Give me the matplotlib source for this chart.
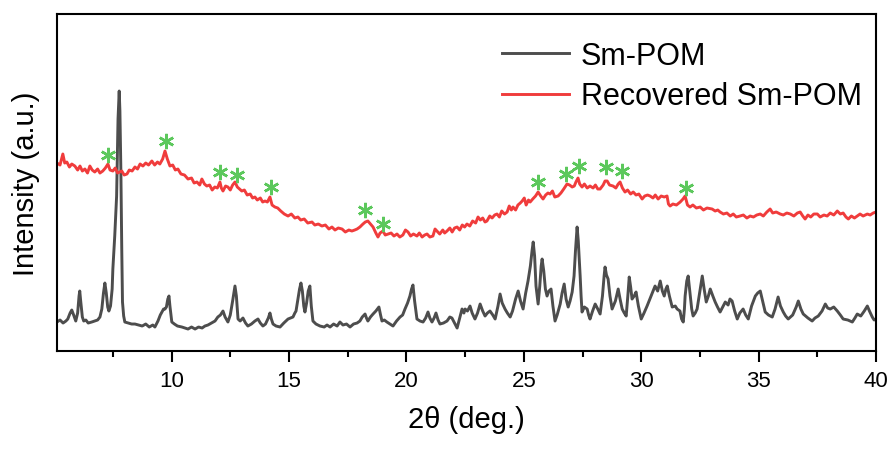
import numpy as np
import matplotlib.pyplot as plt
from matplotlib.ticker import MultipleLocator

plt.rcParams['font.family'] = ['Liberation Sans', 'DejaVu Sans']

# Sm-POM pattern: (2theta, intensity a.u.)
pom_pts = [
    (5.12, 29), (5.25, 31), (5.38, 28), (5.5, 30), (5.58, 32), (5.68, 38), (5.75, 41), (5.83, 36),
    (5.92, 30), (6.0, 38), (6.06, 55), (6.09, 60), (6.13, 50), (6.2, 34), (6.26, 30), (6.35, 31),
    (6.45, 28), (6.6, 29), (6.72, 30), (6.85, 31), (6.95, 34), (7.03, 42), (7.1, 58), (7.16, 68),
    (7.22, 58), (7.28, 44), (7.33, 40), (7.4, 45), (7.47, 62), (7.5, 82), (7.58, 115), (7.66, 155),
    (7.72, 232), (7.77, 260), (7.8, 240), (7.84, 182), (7.88, 100), (7.91, 49), (7.96, 35), (8.01, 29),
    (8.15, 28), (8.3, 27), (8.44, 27), (8.6, 26), (8.75, 25), (8.9, 27), (9.05, 24), (9.2, 26),
    (9.29, 24), (9.42, 30), (9.52, 36), (9.59, 39), (9.66, 42), (9.72, 42), (9.78, 44), (9.84, 52),
    (9.89, 55), (9.93, 45), (10.01, 29), (10.12, 27), (10.25, 25), (10.44, 24), (10.57, 23), (10.7, 22),
    (10.85, 24), (11.0, 22), (11.15, 24), (11.3, 23), (11.42, 25), (11.55, 26), (11.7, 28), (11.85, 30),
    (11.97, 34), (12.08, 36), (12.19, 40), (12.28, 34), (12.4, 29), (12.5, 36), (12.6, 50), (12.7, 65),
    (12.76, 55), (12.83, 32), (12.92, 30), (13.04, 33), (13.15, 28), (13.25, 25), (13.4, 27), (13.55, 30),
    (13.68, 32), (13.78, 28), (13.89, 25), (14.0, 27), (14.12, 33), (14.19, 38), (14.25, 32), (14.32, 27),
    (14.45, 25), (14.62, 24), (14.78, 28), (14.96, 32), (15.07, 33), (15.17, 34), (15.25, 38), (15.3, 40),
    (15.38, 52), (15.45, 62), (15.51, 68), (15.57, 60), (15.63, 45), (15.68, 39), (15.75, 48), (15.82, 60),
    (15.89, 65), (15.95, 45), (16.02, 30), (16.15, 27), (16.32, 25), (16.5, 24), (16.62, 26), (16.75, 24),
    (16.9, 27), (17.05, 25), (17.17, 29), (17.3, 26), (17.45, 27), (17.6, 24), (17.75, 27), (17.9, 28),
    (18.02, 30), (18.12, 34), (18.24, 37), (18.3, 33), (18.36, 30), (18.47, 34), (18.58, 37), (18.7, 40),
    (18.83, 44), (18.9, 36), (18.96, 30), (19.06, 31), (19.17, 29), (19.3, 27), (19.43, 25), (19.58, 30),
    (19.73, 34), (19.84, 36), (19.94, 42), (20.05, 48), (20.15, 55), (20.22, 62), (20.28, 66), (20.35, 50),
    (20.45, 32), (20.58, 30), (20.71, 29), (20.82, 33), (20.92, 39), (21.0, 33), (21.09, 29), (21.18, 33),
    (21.26, 38), (21.35, 31), (21.43, 27), (21.58, 28), (21.73, 30), (21.85, 34), (21.94, 33), (22.05, 28),
    (22.16, 23), (22.27, 33), (22.37, 42), (22.45, 38), (22.5, 42), (22.6, 40), (22.71, 45), (22.8, 38),
    (22.92, 32), (23.03, 38), (23.14, 47), (23.25, 40), (23.35, 35), (23.45, 38), (23.56, 40), (23.68, 36),
    (23.78, 32), (23.9, 45), (23.99, 57), (24.08, 48), (24.2, 42), (24.3, 38), (24.42, 34), (24.52, 40),
    (24.65, 52), (24.76, 60), (24.86, 50), (24.97, 42), (25.08, 58), (25.18, 70), (25.28, 85), (25.35, 100),
    (25.4, 109), (25.46, 95), (25.52, 65), (25.61, 47), (25.68, 65), (25.74, 85), (25.78, 92), (25.85, 80),
    (25.92, 62), (25.99, 55), (26.07, 60), (26.16, 62), (26.24, 45), (26.33, 30), (26.42, 36), (26.55, 47),
    (26.63, 58), (26.72, 67), (26.8, 52), (26.89, 44), (26.97, 50), (27.06, 59), (27.14, 75), (27.2, 100),
    (27.27, 124), (27.32, 110), (27.4, 75), (27.44, 55), (27.48, 39), (27.58, 44), (27.7, 42), (27.76, 36),
    (27.82, 32), (27.93, 40), (28.04, 47), (28.15, 42), (28.25, 37), (28.35, 55), (28.42, 75), (28.46, 84),
    (28.52, 76), (28.59, 72), (28.67, 55), (28.76, 42), (28.9, 50), (29.02, 62), (29.1, 52), (29.19, 42),
    (29.28, 38), (29.36, 35), (29.43, 55), (29.49, 74), (29.55, 64), (29.61, 52), (29.7, 55), (29.78, 59),
    (29.88, 45), (30.0, 32), (30.12, 38), (30.25, 45), (30.42, 55), (30.59, 65), (30.7, 60), (30.81, 70),
    (30.9, 60), (30.98, 55), (31.05, 62), (31.11, 65), (31.2, 55), (31.32, 44), (31.45, 45), (31.53, 42),
    (31.65, 40), (31.72, 32), (31.79, 29), (31.84, 42), (31.87, 55), (31.94, 70), (32.0, 75), (32.07, 60),
    (32.15, 42), (32.21, 35), (32.3, 38), (32.38, 42), (32.5, 60), (32.6, 75), (32.68, 62), (32.77, 49),
    (32.86, 55), (32.94, 62), (33.05, 55), (33.15, 49), (33.25, 44), (33.36, 39), (33.47, 44), (33.58, 49),
    (33.7, 46), (33.78, 52), (33.87, 50), (33.98, 40), (34.09, 32), (34.2, 38), (34.34, 42), (34.45, 36),
    (34.56, 32), (34.7, 45), (34.86, 55), (34.96, 58), (35.07, 60), (35.17, 50), (35.28, 39), (35.42, 36),
    (35.58, 34), (35.7, 42), (35.83, 54), (35.93, 45), (36.05, 39), (36.15, 35), (36.26, 32), (36.45, 36),
    (36.6, 44), (36.69, 50), (36.8, 42), (36.9, 37), (37.1, 33), (37.28, 30), (37.4, 33), (37.54, 35),
    (37.7, 40), (37.84, 47), (37.94, 43), (38.05, 42), (38.2, 44), (38.35, 40), (38.48, 36), (38.6, 32),
    (38.8, 31), (38.99, 29), (39.1, 33), (39.2, 37), (39.35, 35), (39.5, 40), (39.63, 45), (39.72, 40),
    (39.84, 34), (39.92, 31), (40.0, 32),
]

# Recovered Sm-POM pattern
rec_pts = [
    (5.12, 188), (5.25, 186), (5.37, 197), (5.45, 188), (5.54, 189), (5.65, 184), (5.75, 187), (5.88, 185),
    (6.0, 181), (6.1, 185), (6.2, 180), (6.31, 182), (6.42, 178), (6.52, 185), (6.62, 181), (6.73, 179),
    (6.85, 182), (6.95, 178), (7.07, 180), (7.18, 183), (7.29, 187), (7.38, 181), (7.5, 180), (7.6, 183),
    (7.7, 178), (7.88, 180), (7.98, 176), (8.1, 177), (8.2, 181), (8.32, 180), (8.44, 184), (8.55, 182),
    (8.66, 187), (8.78, 185), (8.9, 188), (9.02, 186), (9.16, 190), (9.28, 186), (9.4, 189), (9.5, 187),
    (9.62, 192), (9.72, 200), (9.82, 192), (9.93, 185), (10.05, 186), (10.16, 181), (10.27, 182), (10.4, 177),
    (10.55, 176), (10.7, 172), (10.85, 173), (10.96, 168), (11.08, 169), (11.2, 166), (11.29, 172), (11.4, 167),
    (11.5, 165), (11.62, 166), (11.73, 161), (11.84, 164), (11.95, 163), (12.06, 169), (12.12, 163), (12.19, 160),
    (12.3, 165), (12.4, 164), (12.5, 161), (12.6, 166), (12.7, 169), (12.8, 164), (12.99, 160), (13.1, 161),
    (13.22, 156), (13.35, 157), (13.45, 153), (13.55, 154), (13.65, 151), (13.78, 153), (13.88, 149), (13.98, 150),
    (14.08, 149), (14.19, 154), (14.28, 146), (14.4, 144), (14.52, 143), (14.65, 140), (14.8, 137), (14.96, 135),
    (15.1, 137), (15.25, 133), (15.38, 134), (15.5, 131), (15.65, 132), (15.8, 128), (15.98, 129), (16.1, 126),
    (16.25, 127), (16.4, 125), (16.55, 126), (16.7, 122), (16.83, 124), (16.96, 121), (17.1, 123), (17.26, 122),
    (17.4, 119), (17.55, 121), (17.68, 120), (17.8, 121), (17.9, 122), (18.02, 124), (18.15, 127), (18.25, 129),
    (18.36, 130), (18.47, 127), (18.58, 124), (18.7, 118), (18.79, 114), (18.88, 118), (19.0, 120), (19.1, 116),
    (19.22, 117), (19.35, 118), (19.47, 115), (19.6, 117), (19.72, 114), (19.85, 116), (19.96, 121), (20.07, 119),
    (20.18, 115), (20.3, 117), (20.45, 115), (20.55, 118), (20.67, 114), (20.78, 116), (20.88, 117), (21.0, 114),
    (21.13, 115), (21.22, 122), (21.3, 120), (21.42, 117), (21.55, 121), (21.63, 118), (21.73, 120), (21.85, 123),
    (21.95, 119), (22.05, 123), (22.16, 124), (22.27, 121), (22.38, 126), (22.48, 124), (22.58, 127), (22.7, 125),
    (22.82, 130), (22.95, 128), (23.05, 134), (23.15, 131), (23.25, 133), (23.35, 129), (23.43, 130), (23.55, 135),
    (23.65, 133), (23.76, 136), (23.86, 137), (23.96, 134), (24.06, 140), (24.18, 137), (24.29, 139), (24.38, 145),
    (24.47, 141), (24.54, 144), (24.65, 141), (24.75, 146), (24.85, 148), (24.93, 150), (25.02, 153), (25.1, 146),
    (25.2, 151), (25.27, 149), (25.38, 152), (25.5, 155), (25.61, 159), (25.72, 155), (25.82, 152), (25.93, 156),
    (26.03, 158), (26.12, 157), (26.22, 160), (26.32, 154), (26.46, 155), (26.58, 158), (26.7, 162), (26.84, 167),
    (26.95, 166), (27.06, 164), (27.15, 165), (27.22, 169), (27.31, 173), (27.38, 167), (27.48, 164), (27.58, 167),
    (27.7, 163), (27.82, 165), (27.95, 163), (28.05, 166), (28.15, 162), (28.25, 162), (28.38, 166), (28.46, 170),
    (28.55, 170), (28.65, 166), (28.8, 165), (28.92, 163), (29.02, 167), (29.1, 169), (29.2, 163), (29.31, 159),
    (29.42, 161), (29.55, 157), (29.66, 159), (29.78, 156), (29.9, 157), (30.04, 152), (30.15, 155), (30.27, 156),
    (30.38, 155), (30.5, 153), (30.6, 156), (30.72, 152), (30.85, 155), (30.98, 154), (31.1, 155), (31.16, 147),
    (31.23, 145), (31.35, 147), (31.5, 146), (31.66, 149), (31.78, 152), (31.87, 155), (31.97, 146), (32.08, 144),
    (32.2, 146), (32.35, 143), (32.51, 144), (32.65, 141), (32.8, 143), (33.02, 142), (33.15, 140), (33.26, 141),
    (33.36, 139), (33.5, 137), (33.65, 138), (33.79, 135), (33.92, 137), (34.05, 134), (34.21, 135), (34.35, 136),
    (34.5, 133), (34.64, 135), (34.78, 134), (34.92, 136), (35.07, 137), (35.2, 135), (35.35, 139), (35.49, 142),
    (35.6, 138), (35.75, 139), (35.92, 137), (36.05, 136), (36.2, 138), (36.35, 137), (36.5, 135), (36.65, 138),
    (36.77, 139), (36.88, 135), (36.98, 132), (37.1, 136), (37.22, 134), (37.35, 137), (37.5, 137), (37.62, 134),
    (37.78, 136), (37.92, 135), (38.05, 138), (38.2, 136), (38.35, 140), (38.48, 137), (38.6, 138), (38.72, 134),
    (38.82, 132), (38.95, 135), (39.08, 133), (39.2, 135), (39.32, 137), (39.45, 135), (39.63, 137), (39.75, 136),
    (39.88, 138), (40.0, 139),
]

# marked reflections of the recovered sample
star_tt = [7.29, 9.76, 12.06, 12.78, 14.23, 18.24, 19.00, 25.61, 26.80, 27.35, 28.50, 29.19, 31.91]
star_int = [196, 210, 179, 176, 164, 141, 127, 169, 177, 185, 184, 180, 163]

tt_pom, int_pom = zip(*pom_pts)
tt_rec, int_rec = zip(*rec_pts)

fig = plt.figure(figsize=(8.93, 4.52), dpi=100)
ax = fig.add_axes([0.0638, 0.2212, 0.9172, 0.7456])

ax.plot(tt_pom, int_pom, color='#4d4d4d', lw=2.1, label='Sm-POM')
ax.plot(tt_rec, int_rec, color='#f03c3c', lw=2.1, label='Recovered Sm-POM')
ax.plot(star_tt, star_int, ls='none', marker=(6, 2, 0), ms=11, mew=1.8,
        color='#5cc85c')

ax.set_xlim(5.12, 40)
ax.set_ylim(0, 337)
ax.set_yticks([])
ax.xaxis.set_major_locator(MultipleLocator(5))
ax.xaxis.set_minor_locator(MultipleLocator(2.5))
ax.tick_params(axis='x', which='major', direction='out', length=8, width=1.5,
               labelsize=16, pad=6)
ax.tick_params(axis='x', which='minor', direction='out', length=4.5, width=1.5)
for s in ax.spines.values():
    s.set_linewidth(1.5)

ax.set_xlabel('2θ (deg.)', fontsize=21, labelpad=10)
ax.set_ylabel('Intensity (a.u.)', fontsize=21, labelpad=12)

ax.legend(loc='upper right', bbox_to_anchor=(1.0053, 0.975), frameon=False, fontsize=22,
          handlelength=2.2, handletextpad=0.4, labelspacing=0.35, borderaxespad=0.2)

fig.savefig('out.png', dpi=100)
